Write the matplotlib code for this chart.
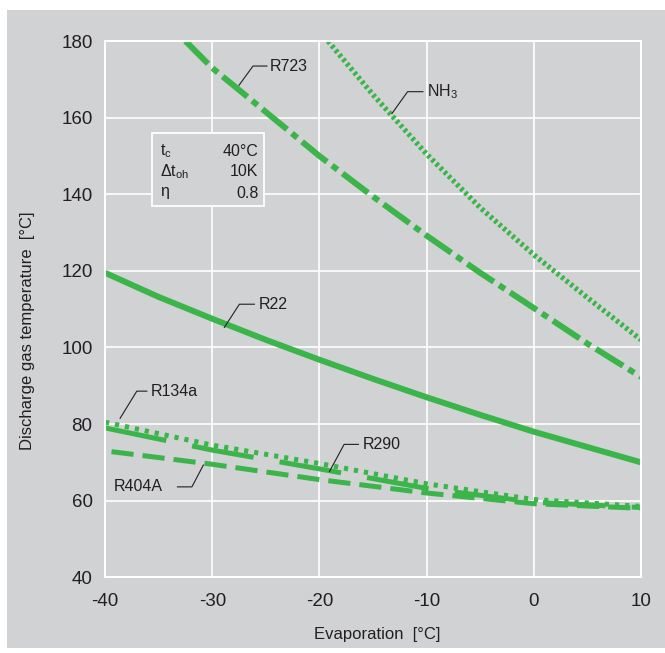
import matplotlib
matplotlib.use("Agg")
import matplotlib.pyplot as plt
from matplotlib.patches import Rectangle

plt.rcParams['font.family'] = ['Liberation Sans', 'DejaVu Sans']
plt.rcParams['mathtext.default'] = 'regular'
plt.rcParams['lines.scale_dashes'] = False
plt.rcParams['axes.unicode_minus'] = False

# values
t_r723 = [-32.5, -30, -25, -20, -15, -10, -5, 0, 5, 10]
v_r723 = [180, 173, 161.5, 150, 139.4, 129.2, 119.5, 110.3, 101, 92.3]

t_nh3 = [-19.2, -15, -10, -5, 0, 5, 10]
v_nh3 = [180, 166, 150.5, 136.5, 124.2, 113, 102]

t_r22 = [-40, -35, -30, -25, -20, -15, -10, -5, 0, 5, 10]
v_r22 = [119.5, 113.2, 107.5, 102, 96.8, 91.8, 87, 82.4, 78, 74, 70]

t_low = [-40, -30, -20, -10, 0, 10]
v_r134a = [80.5, 74.5, 69.7, 64.4, 60.3, 58.5]
v_r290 = [79, 73.2, 68.3, 63.2, 59.6, 58.2]
t_r404a = [-39.4, -30, -20, -10, 0, 10]
v_r404a = [72.8, 69.5, 65.5, 62, 59.2, 58]

xticks = [-40, -30, -20, -10, 0, 10]
yticks = [40, 60, 80, 100, 120, 140, 160, 180]

GRAY = '#d1d2d4'
GREEN = '#3bb44a'
TXT = '#231f20'

fig = plt.figure(figsize=(6.65, 6.53), dpi=100)
bg = Rectangle((0.0105, 0.0077), 0.99, 0.977, transform=fig.transFigure,
               facecolor=GRAY, edgecolor='none', zorder=-10)
fig.add_artist(bg)
ax = fig.add_axes([0.158, 0.116, 0.806, 0.821])
ax.set_facecolor(GRAY)

ax.plot(t_r723, v_r723, color=GREEN, lw=4.3, dashes=(23, 4.5, 5, 4.5), solid_capstyle='butt', dash_capstyle='butt')
ax.plot(t_nh3, v_nh3, color=GREEN, lw=3.8, dashes=(2.2, 2), dash_capstyle='butt')
ax.plot(t_r22, v_r22, color=GREEN, lw=4.3, solid_capstyle='butt')
ax.plot(t_low, v_r134a, color=GREEN, lw=3.6, dashes=(3, 4.3), dash_capstyle='butt')
ax.plot(t_low, v_r290, color=GREEN, lw=3.6, dashes=(45, 19), dash_capstyle='butt')
ax.plot(t_r404a, v_r404a, color=GREEN, lw=3.6, dashes=(16, 6.5), dash_capstyle='butt')

ax.set_xlim(-40, 10)
ax.set_ylim(40, 180)
ax.set_xticks(xticks)
ax.set_yticks(yticks)
ax.grid(True, color='white', lw=1.2)
ax.set_axisbelow(True)
for s in ax.spines.values():
    s.set_color('white')
    s.set_linewidth(1.5)
ax.tick_params(length=0, labelsize=13.5, colors=TXT)
ax.tick_params(axis='x', pad=11)
ax.tick_params(axis='y', pad=9)
ax.set_xlabel('Evaporation  [°C]', fontsize=12, color=TXT)
ax.set_ylabel('Discharge gas temperature  [°C]', fontsize=12, color=TXT)
ax.xaxis.set_label_coords(0.508, -0.093)
ax.yaxis.set_label_coords(-0.13, 0.459)

# condition box
ax.add_patch(Rectangle((-35.6, 136.9), 10.45, 19.1, facecolor=GRAY, edgecolor='white', lw=1.3, zorder=2))
rows = [(r'$t_c$', '40°C', 151.3), (r'$\Delta t_{oh}$', '10K', 146.0), (r'$\eta$', '0.8', 140.3)]
for name, val, yy in rows:
    ax.text(-34.9, yy, name, fontsize=11.5, color=TXT, va='center', zorder=3)
    ax.text(-25.7, yy, val, fontsize=11.5, color=TXT, va='center', ha='right', zorder=3)

# curve labels with leader lines
labels = [
    ('R723', [-27.5, -26.2, -24.9], [168.5, 173.5, 173.5], -24.6, 'left'),
    (r'$NH_3$', [-13.24, -11.78, -10.35], [161.1, 166.8, 166.8], -10.0, 'left'),
    ('R22', [-28.87, -27.47, -26.07], [105.25, 111.3, 111.3], -25.7, 'left'),
    ('R134a', [-38.6, -37.04, -36.1], [81.5, 88.6, 88.6], -35.7, 'left'),
    ('R290', [-19.07, -17.7, -16.36], [67.6, 74.7, 74.7], -16.0, 'left'),
    ('R404A', [-30.83, -31.9, -33.25], [69.3, 63.6, 63.6], -34.6, 'right'),
]
for name, lx, ly, tx, ha in labels:
    ax.plot(lx, ly, color=TXT, lw=0.8, zorder=4)
    ax.text(tx, ly[-1], name, fontsize=11.5, color=TXT, va='center', ha=ha, zorder=4)

fig.savefig('out.png', dpi=100, facecolor='white')
